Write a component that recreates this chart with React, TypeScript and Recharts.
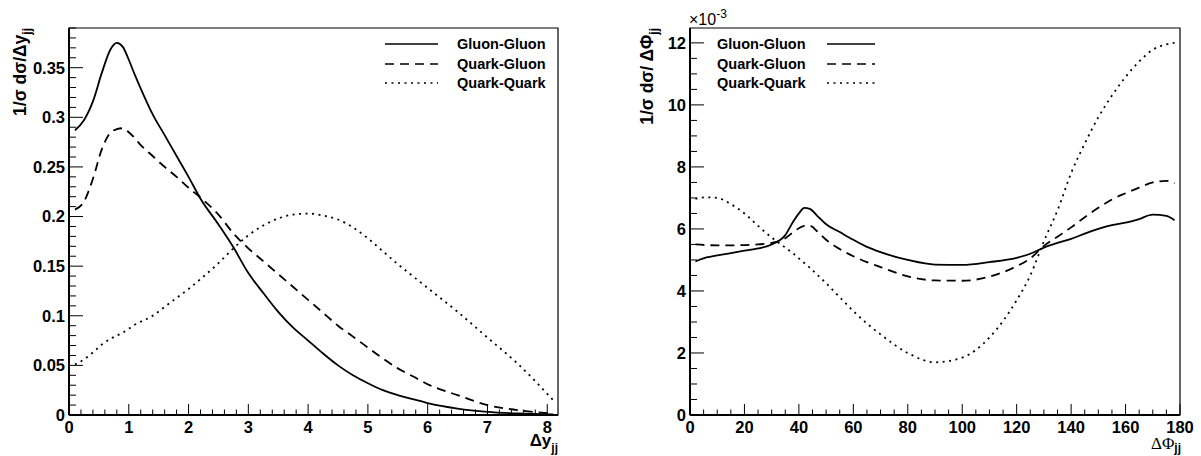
import React from 'react';
import { LineChart, Line, XAxis, YAxis, ReferenceArea, Legend } from 'recharts';

// ---------- Left panel: Delta y_jj ----------
const dyX = [0.1, 0.25, 0.4, 0.55, 0.7, 0.8, 0.9, 1.0, 1.1, 1.2, 1.4, 1.6, 1.8, 2.0, 2.2, 2.5, 2.75, 3.0, 3.25, 3.5, 3.75, 4.0, 4.25, 4.5, 4.75, 5.0, 5.25, 5.5, 5.75, 6.0, 6.5, 7.0, 7.5, 8.1];
const dyGluonGluon = [0.287, 0.297, 0.316, 0.345, 0.369, 0.375, 0.371, 0.358, 0.343, 0.329, 0.303, 0.282, 0.261, 0.240, 0.218, 0.192, 0.169, 0.143, 0.123, 0.104, 0.088, 0.075, 0.062, 0.050, 0.040, 0.032, 0.025, 0.020, 0.016, 0.012, 0.0065, 0.0032, 0.0015, 0.0005];
const dyQuarkGluon = [0.207, 0.215, 0.238, 0.268, 0.285, 0.288, 0.289, 0.285, 0.279, 0.272, 0.261, 0.250, 0.240, 0.229, 0.219, 0.202, 0.183, 0.168, 0.155, 0.142, 0.129, 0.116, 0.103, 0.090, 0.079, 0.068, 0.057, 0.047, 0.039, 0.031, 0.020, 0.010, 0.005, 0.0015];
const dyQuarkQuark = [0.051, 0.056, 0.063, 0.071, 0.077, 0.080, 0.083, 0.087, 0.091, 0.094, 0.100, 0.109, 0.118, 0.127, 0.137, 0.153, 0.168, 0.181, 0.191, 0.198, 0.202, 0.203, 0.201, 0.197, 0.189, 0.178, 0.165, 0.152, 0.140, 0.128, 0.104, 0.078, 0.052, 0.015];

// ---------- Right panel: Delta Phi_jj (units of 1e-3) ----------
const dphiX = [2, 6, 10, 15, 20, 25, 30, 35, 38, 40, 42, 44, 47, 50, 55, 60, 65, 70, 80, 90, 100, 110, 120, 125, 130, 135, 140, 145, 150, 155, 160, 165, 170, 175, 178];
const dphiGluonGluon = [4.95, 5.08, 5.15, 5.22, 5.30, 5.37, 5.50, 5.80, 6.25, 6.50, 6.68, 6.65, 6.40, 6.15, 5.90, 5.65, 5.42, 5.25, 5.00, 4.85, 4.84, 4.93, 5.07, 5.20, 5.40, 5.55, 5.68, 5.85, 6.00, 6.12, 6.20, 6.32, 6.46, 6.42, 6.28];
const dphiQuarkGluon = [5.50, 5.48, 5.47, 5.47, 5.48, 5.50, 5.55, 5.70, 5.90, 6.02, 6.10, 6.10, 5.90, 5.65, 5.35, 5.12, 4.93, 4.77, 4.47, 4.34, 4.33, 4.46, 4.80, 5.05, 5.45, 5.75, 6.05, 6.38, 6.68, 6.95, 7.15, 7.33, 7.50, 7.55, 7.47];
const dphiQuarkQuark = [6.97, 7.02, 7.00, 6.80, 6.50, 6.10, 5.72, 5.40, 5.20, 5.05, 4.90, 4.75, 4.50, 4.25, 3.80, 3.35, 2.95, 2.60, 2.00, 1.70, 1.85, 2.50, 3.70, 4.50, 5.60, 6.60, 7.80, 8.75, 9.60, 10.30, 10.90, 11.40, 11.78, 11.95, 12.00];

const seriesNames = ['Gluon-Gluon', 'Quark-Gluon', 'Quark-Quark'];
const seriesKeys = ['gg', 'qg', 'qq'];
const seriesDash = [undefined, '9 6', '2 4.5'];

// axis ranges / ticks
const dyDomain = [0, 8.18];
const dyYDomain = [0, 0.39];
const dphiDomain = [0, 180];
const dphiYDomain = [0, 12.48];

const range = (a: number, b: number, step: number) => {
  const out: number[] = [];
  const n = Math.round((b - a) / step);
  for (let i = 0; i <= n; i++) out.push(+(a + i * step).toFixed(6));
  return out;
};
const dyXTicks = range(0, 8, 0.2);
const dyYTicks = range(0, 0.39, 0.01);
const dphiXTicks = range(0, 180, 5);
const dphiYTicks = range(0, 12, 0.5);

const leftData = dyX.map((x, i) => ({ x, gg: dyGluonGluon[i], qg: dyQuarkGluon[i], qq: dyQuarkQuark[i] }));
const rightData = dphiX.map((x, i) => ({ x, gg: dphiGluonGluon[i], qg: dphiQuarkGluon[i], qq: dphiQuarkQuark[i] }));

const FONT = '"Liberation Sans", Arial, Helvetica, sans-serif';

const isMajor = (v: number, step: number) => Math.abs(v / step - Math.round(v / step)) < 1e-6;
const fmt = (v: number) => (v === 0 ? '0' : String(+v.toFixed(3)));

const XTick = (props: any) => {
  const { x, y, payload, step } = props;
  const v = payload.value;
  const maj = isMajor(v, step);
  return (
    <g>
      <line x1={x} x2={x} y1={y} y2={y - (maj ? 11 : 5.5)} stroke="#000" strokeWidth={1} />
      {maj && (
        <text x={x} y={y + 17.5} textAnchor="middle" fontFamily={FONT} fontWeight="bold" fontSize={16.5} fill="#000">
          {fmt(v)}
        </text>
      )}
    </g>
  );
};

const YTick = (props: any) => {
  const { x, y, payload, step } = props;
  const v = payload.value;
  const maj = isMajor(v, step);
  return (
    <g>
      <line x1={x} x2={x + (maj ? 14 : 7)} y1={y} y2={y} stroke="#000" strokeWidth={1} />
      {maj && (
        <text x={x - 4} y={y} dy="0.36em" textAnchor="end" fontFamily={FONT} fontWeight="bold" fontSize={16.5} fill="#000">
          {fmt(v)}
        </text>
      )}
    </g>
  );
};

const LegendBody = ({ lineFirst }: { lineFirst: boolean }) => {
  const rows = [10, 30, 49];
  return (
    <svg width={180} height={62} style={{ display: 'block', overflow: 'visible' }}>
      {seriesNames.map((name, i) => {
        const lx1 = lineFirst ? 5 : 110;
        const lx2 = lineFirst ? 58 : 158;
        const tx = lineFirst ? 77 : 0;
        return (
          <g key={name}>
            <line x1={lx1} x2={lx2} y1={rows[i]} y2={rows[i]} stroke="#000" strokeWidth={1.6} strokeDasharray={seriesDash[i]} />
            <text x={tx} y={rows[i]} dy="0.36em" fontFamily={FONT} fontWeight="bold" fontSize={14.5} fill="#000">
              {name}
            </text>
          </g>
        );
      })}
    </svg>
  );
};

const Panel = ({ data, xDomain, yDomain, xTicks, yTicks, xStep, yStep, width, yAxisWidth, marginRight, legendLeft, lineFirst }: any) => (
  <LineChart width={width} height={456} data={data} margin={{ top: 28, right: marginRight, bottom: 0, left: 0 }}>
    <XAxis
      type="number"
      dataKey="x"
      domain={xDomain}
      ticks={xTicks}
      interval={0}
      allowDataOverflow
      height={41}
      tickLine={false}
      tickSize={0}
      tickMargin={0}
      axisLine={{ stroke: '#000', strokeWidth: 2 }}
      tick={<XTick step={xStep} />}
    />
    <YAxis
      type="number"
      domain={yDomain}
      ticks={yTicks}
      interval={0}
      allowDataOverflow
      width={yAxisWidth}
      tickLine={false}
      tickSize={0}
      tickMargin={0}
      axisLine={{ stroke: '#000', strokeWidth: 2 }}
      tick={<YTick step={yStep} />}
    />
    <ReferenceArea x1={xDomain[0]} x2={xDomain[1]} y1={yDomain[0]} y2={yDomain[1]} fill="none" stroke="#000" strokeWidth={1.2} ifOverflow="visible" />
    {seriesKeys.map((k, i) => (
      <Line
        key={k}
        type="monotone"
        dataKey={k}
        name={seriesNames[i]}
        stroke="#000"
        strokeWidth={1.8}
        strokeDasharray={seriesDash[i]}
        dot={false}
        activeDot={false}
        isAnimationActive={false}
      />
    ))}
    <Legend
      layout="horizontal"
      verticalAlign="middle"
      align="center"
      wrapperStyle={{ position: 'absolute', left: legendLeft, top: 34, width: 180, height: 62 }}
      content={() => <LegendBody lineFirst={lineFirst} />}
    />
  </LineChart>
);

export default function App() {
  return (
    <div style={{ position: 'absolute', left: 0, top: 0, width: 1201, height: 456, background: '#fff' }}>
      <div style={{ position: 'absolute', left: 0, top: 0 }}>
        <Panel
          data={leftData}
          xDomain={dyDomain}
          yDomain={dyYDomain}
          xTicks={dyXTicks}
          yTicks={dyYTicks}
          xStep={1}
          yStep={0.05}
          width={600}
          yAxisWidth={69}
          marginRight={42}
          legendLeft={380}
          lineFirst={true}
        />
      </div>
      <div style={{ position: 'absolute', left: 600, top: 0 }}>
        <Panel
          data={rightData}
          xDomain={dphiDomain}
          yDomain={dphiYDomain}
          xTicks={dphiXTicks}
          yTicks={dphiYTicks}
          xStep={20}
          yStep={2}
          width={601}
          yAxisWidth={90}
          marginRight={21}
          legendLeft={117}
          lineFirst={false}
        />
      </div>
      <svg width={1201} height={456} style={{ position: 'absolute', left: 0, top: 0, pointerEvents: 'none' }}>
        <text transform="rotate(-90, 26, 28)" x={26} y={28} textAnchor="end" fontFamily={FONT} fontWeight="bold" fontSize={17.5} fill="#000">
          1/σ dσ/Δy<tspan dy={5} fontSize={12}>jj</tspan>
        </text>
        <text transform="rotate(-90, 653, 28)" x={653} y={28} textAnchor="end" fontFamily={FONT} fontWeight="bold" fontSize={17.5} fill="#000">
          1/σ dσ/ ΔΦ<tspan dy={5} fontSize={12}>jj</tspan>
        </text>
        <text x={689} y={25} fontFamily={FONT} fontSize={16} fill="#000">
          ×10<tspan dy={-7} fontSize={12}>-3</tspan>
        </text>
        <text x={558} y={446} textAnchor="end" fontFamily={FONT} fontWeight="bold" fontSize={17} fill="#000">
          Δy<tspan dy={6} fontSize={12}>jj</tspan>
        </text>
        <text x={1181} y={449} textAnchor="end" fontFamily='"Liberation Serif", "Times New Roman", serif' fontSize={17} fill="#000">
          ΔΦ<tspan dy={3} fontSize={12} fontWeight="bold" fontFamily={FONT}>jj</tspan>
        </text>
      </svg>
    </div>
  );
}
